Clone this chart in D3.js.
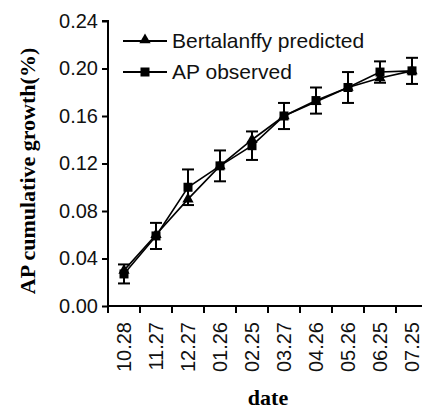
<!DOCTYPE html>
<html>
<head>
    <meta charset="utf-8">
    <title></title>
    <style>
        body { margin: 0; background: white; }
        svg { display: block; }
    </style>
</head>
<body>
    <script src="https://cdnjs.cloudflare.com/ajax/libs/d3/7.8.5/d3.min.js"></script>
    <script>

var dates = ["10.28", "11.27", "12.27", "01.26", "02.25", "03.27", "04.26", "05.26", "06.25", "07.25"];
var predicted = [0.030, 0.060, 0.090, 0.118, 0.140, 0.160, 0.172, 0.184, 0.192, 0.198];
var observed = [0.027, 0.059, 0.100, 0.118, 0.135, 0.160, 0.173, 0.184, 0.197, 0.198];
var observedErr = [0.008, 0.011, 0.015, 0.013, 0.012, 0.011, 0.011, 0.013, 0.009, 0.011];
var yTicks = [0.00, 0.04, 0.08, 0.12, 0.16, 0.20, 0.24];
var legendLabels = ["Bertalanffy predicted", "AP observed"];

var config = {
    width: 422,
    height: 411,
    margin: { top: 21, right: -6, bottom: 105, left: 108 },
    sansFont: "'Liberation Sans', Arial, Helvetica, sans-serif",
    serifFont: "'Liberation Serif', 'Times New Roman', serif"
};

var svg = d3.select("body").append("svg")
    .attr("width", config.width)
    .attr("height", config.height);

var innerW = config.width - config.margin.left - config.margin.right;
var innerH = config.height - config.margin.top - config.margin.bottom;

var g = svg.append("g")
    .attr("transform", "translate(" + config.margin.left + "," + config.margin.top + ")");

var x = d3.scaleBand().domain(dates).range([0, innerW]).padding(0);
var y = d3.scaleLinear().domain([0, 0.24]).range([innerH, 0]);
var cx = function (d) { return x(d) + x.bandwidth() / 2; };

// y axis
var yAxis = g.append("g")
    .call(d3.axisLeft(y).tickValues(yTicks).tickFormat(d3.format(".2f")).tickSize(6).tickPadding(4));
yAxis.select(".domain").attr("stroke-width", 2).attr("d", "M-6,0H0V" + (innerH + 7));
yAxis.selectAll(".tick line").attr("stroke-width", 2);
yAxis.selectAll("text").style("font-family", config.sansFont).style("font-size", "20px").attr("fill", "#111");

// x axis: ticks sit between the categories
var xAxis = g.append("g").attr("transform", "translate(0," + innerH + ")");
xAxis.append("line")
    .attr("x1", 0).attr("x2", innerW)
    .attr("stroke", "black").attr("stroke-width", 2);
xAxis.selectAll(".sep").data(dates.slice(1)).enter().append("line")
    .attr("class", "sep")
    .attr("x1", function (d) { return x(d); })
    .attr("x2", function (d) { return x(d); })
    .attr("y1", 0).attr("y2", 7)
    .attr("stroke", "black").attr("stroke-width", 2);
xAxis.selectAll(".lab").data(dates).enter().append("text")
    .attr("class", "lab")
    .attr("transform", function (d) { return "translate(" + (cx(d) + 7) + ",16) rotate(-90)"; })
    .attr("text-anchor", "end")
    .style("font-family", config.sansFont).style("font-size", "20px").attr("fill", "#111")
    .text(function (d) { return d; });

// axis titles
svg.append("text")
    .attr("transform", "translate(35,171) rotate(-90)")
    .attr("text-anchor", "middle")
    .style("font-family", config.serifFont).style("font-size", "22px").style("font-weight", "bold")
    .text("AP cumulative growth(%)");
svg.append("text")
    .attr("x", 268).attr("y", 405)
    .attr("text-anchor", "middle")
    .style("font-family", config.serifFont).style("font-size", "22px").style("font-weight", "bold")
    .text("date");

var line = d3.line()
    .x(function (d, i) { return cx(dates[i]); })
    .y(function (d) { return y(d); });

var triangle = d3.symbol().type(d3.symbolTriangle).size(55);

// error bars
var err = g.selectAll(".err").data(observed).enter().append("g").attr("class", "err")
    .attr("stroke", "black").attr("stroke-width", 2);
err.append("line")
    .attr("x1", function (d, i) { return cx(dates[i]); })
    .attr("x2", function (d, i) { return cx(dates[i]); })
    .attr("y1", function (d, i) { return y(d + observedErr[i]); })
    .attr("y2", function (d, i) { return y(d - observedErr[i]); });
[1, -1].forEach(function (s) {
    err.append("line")
        .attr("x1", function (d, i) { return cx(dates[i]) - 6; })
        .attr("x2", function (d, i) { return cx(dates[i]) + 6; })
        .attr("y1", function (d, i) { return y(d + s * observedErr[i]); })
        .attr("y2", function (d, i) { return y(d + s * observedErr[i]); });
});

// lines
g.append("path").datum(predicted).attr("d", line)
    .attr("fill", "none").attr("stroke", "black").attr("stroke-width", 1.6);
g.append("path").datum(observed).attr("d", line)
    .attr("fill", "none").attr("stroke", "black").attr("stroke-width", 1.6);

// markers
g.selectAll(".tri").data(predicted).enter().append("path")
    .attr("class", "tri")
    .attr("d", triangle)
    .attr("transform", function (d, i) { return "translate(" + cx(dates[i]) + "," + y(d) + ")"; })
    .attr("fill", "black");
g.selectAll(".sq").data(observed).enter().append("rect")
    .attr("class", "sq")
    .attr("x", function (d, i) { return cx(dates[i]) - 4.5; })
    .attr("y", function (d) { return y(d) - 4.5; })
    .attr("width", 9).attr("height", 9)
    .attr("fill", "black");

// legend
var legend = svg.append("g").attr("transform", "translate(123,41)");
legendLabels.forEach(function (label, i) {
    var row = legend.append("g").attr("transform", "translate(0," + (i * 31) + ")");
    row.append("line").attr("x1", 0).attr("x2", 44).attr("stroke", "black").attr("stroke-width", 2);
    if (i === 0) {
        row.append("path").attr("d", triangle).attr("transform", "translate(22,-1)").attr("fill", "black");
    } else {
        row.append("rect").attr("x", 17.5).attr("y", -4.5).attr("width", 9).attr("height", 9).attr("fill", "black");
    }
    row.append("text")
        .attr("x", 49).attr("dy", "0.35em")
        .style("font-family", config.sansFont).style("font-size", "21px").attr("fill", "#111")
        .text(label);
});
    </script>
</body>
</html>
